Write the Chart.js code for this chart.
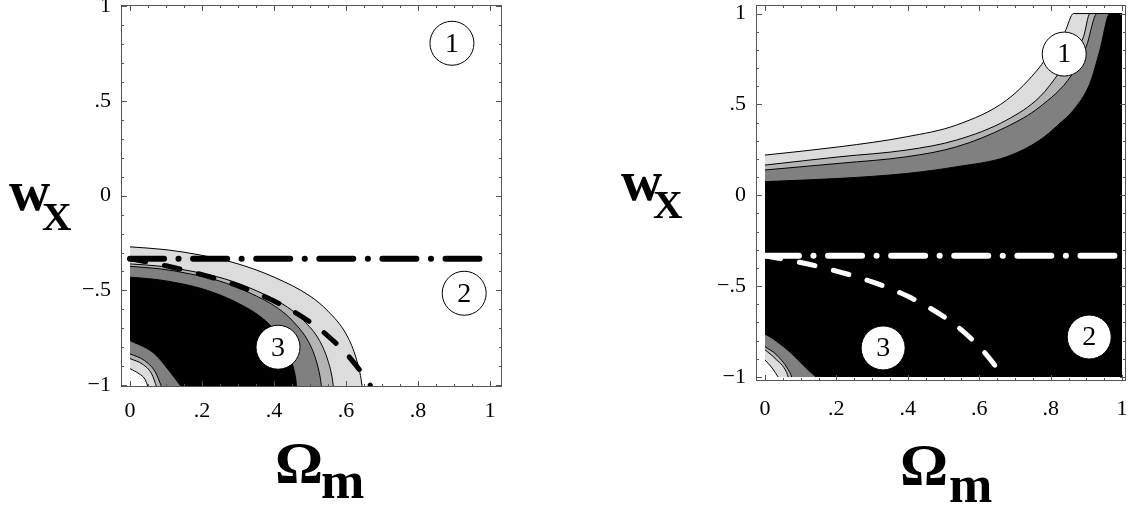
<!DOCTYPE html>
<html>
<head>
<meta charset="utf-8">
<script src="https://cdn.jsdelivr.net/npm/chart.js@4.4.1/dist/chart.umd.min.js"></script>
<style>
  body { margin: 0; width: 1128px; height: 508px; background: #fff; position: relative; overflow: hidden; font-family: 'Liberation Serif', serif; }
  .box { position: absolute; }
  .lbl { position: absolute; font-weight: bold; line-height: 1; white-space: nowrap; color: #000; }
</style>
</head>
<body>
<div class="box" style="left:0;top:-20px;width:540px;height:470px"><canvas id="leftChart"></canvas></div>
<div class="box" style="left:600px;top:-20px;width:550px;height:470px"><canvas id="rightChart"></canvas></div>

<span class="lbl" style="left:9px;top:162px;font-size:57px">w</span>
<span class="lbl" style="left:42px;top:196px;font-size:41px">X</span>
<span class="lbl" style="left:621px;top:152px;font-size:57px">w</span>
<span class="lbl" style="left:653px;top:184px;font-size:41px">X</span>
<span class="lbl" style="left:275px;top:433px;font-size:60px">Ω</span>
<span class="lbl" style="left:321px;top:455px;font-size:52px">m</span>
<span class="lbl" style="left:900px;top:435px;font-size:60px">Ω</span>
<span class="lbl" style="left:949px;top:459px;font-size:52px">m</span>

<script>
// axes: x = Omega_m, y = w_X
const omegaTicks = [0, 0.2, 0.4, 0.6, 0.8, 1];
const omegaTickLabels = ['0', '.2', '.4', '.6', '.8', '1'];
const wTicks = [-1, -0.5, 0, 0.5, 1];
const wTickLabels = ['−1', '−.5', '0', '.5', '1'];

// w = -1/3 (dash-dot) and the dashed boundary curve, same in both panels
const thirdX = [0, 1];
const thirdW = [-0.333, -0.333];
const dashedX = [0, 0.1, 0.2, 0.3, 0.4, 0.5, 0.55, 0.6, 0.64, 0.667];
const dashedW = [-0.333, -0.37, -0.417, -0.476, -0.556, -0.667, -0.741, -0.833, -0.926, -1.0];

// left panel contours (outer to inner)
const leftB1X = [0, 0.1, 0.2, 0.3, 0.4, 0.5, 0.55, 0.6, 0.625, 0.64, 0.645];
const leftB1W = [-0.27, -0.285, -0.315, -0.36, -0.43, -0.53, -0.61, -0.73, -0.84, -0.95, -1.01];
const leftB2X = [0, 0.088, 0.175, 0.263, 0.35, 0.438, 0.482, 0.526, 0.548, 0.561, 0.565];
const leftB2W = [-0.36, -0.373, -0.40, -0.439, -0.501, -0.589, -0.659, -0.764, -0.861, -0.957, -1.01];
const leftB3X = [0, 0.083, 0.165, 0.248, 0.33, 0.413, 0.454, 0.495, 0.516, 0.528, 0.532];
const leftB3W = [-0.373, -0.386, -0.412, -0.45, -0.511, -0.597, -0.666, -0.769, -0.864, -0.958, -1.01];
const leftB4X = [0, 0.072, 0.144, 0.215, 0.287, 0.359, 0.395, 0.431, 0.449, 0.46, 0.463];
const leftB4W = [-0.43, -0.442, -0.465, -0.50, -0.555, -0.634, -0.696, -0.79, -0.877, -0.963, -1.01];
const leftC1X = [0, 0.065, 0.1, 0.14];
const leftC1W = [-0.77, -0.835, -0.91, -1.01];
const leftC2X = [0, 0.04, 0.07, 0.088];
const leftC2W = [-0.835, -0.87, -0.93, -1.01];
const leftC3X = [0, 0.035, 0.06, 0.074];
const leftC3W = [-0.86, -0.89, -0.94, -1.01];
const leftC4X = [0, 0.025, 0.042, 0.05];
const leftC4W = [-0.913, -0.94, -0.97, -1.01];

// right panel contours
const rightD1X = [0, 0.21, 0.397, 0.537, 0.677, 0.77, 0.789, 0.84, 0.864, 1.0];
const rightD1W = [0.221, 0.267, 0.322, 0.387, 0.524, 0.707, 0.762, 0.90, 1.0, 1.0];
const rightD2X = [0, 0.21, 0.397, 0.537, 0.677, 0.77, 0.826, 0.892, 0.91, 1.0];
const rightD2W = [0.166, 0.212, 0.249, 0.304, 0.414, 0.542, 0.68, 0.872, 1.0, 1.0];
const rightD3X = [0, 0.21, 0.397, 0.537, 0.677, 0.77, 0.859, 0.9, 0.93, 1.0];
const rightD3W = [0.139, 0.176, 0.212, 0.267, 0.377, 0.487, 0.662, 0.82, 1.0, 1.0];
const rightD4X = [0, 0.21, 0.397, 0.537, 0.677, 0.77, 0.826, 0.864, 0.91, 0.938, 0.966, 1.0];
const rightD4W = [0.075, 0.093, 0.12, 0.157, 0.212, 0.304, 0.396, 0.469, 0.616, 0.80, 1.0, 1.0];
const rightE1X = [0, 0.023, 0.07, 0.126, 0.14];
const rightE1W = [-0.769, -0.796, -0.868, -0.976, -1.0];
const rightE2X = [0, 0.033, 0.07, 0.075];
const rightE2W = [-0.833, -0.879, -0.976, -1.0];
const rightE3X = [0, 0.028, 0.061, 0.065];
const rightE3W = [-0.85, -0.897, -0.976, -1.0];
const rightE4X = [0, 0.02, 0.037];
const rightE4W = [-0.906, -0.95, -1.0];

// numbered circles
const markerText = ['1', '2', '3'];
const leftMarkerX = [0.894, 0.928, 0.411];
const leftMarkerW = [0.805, -0.515, -0.80];
const rightMarkerX = [0.838, 0.908, 0.331];
const rightMarkerW = [0.777, -0.78, -0.84];

const LIGHT = '#dcdcdc', MID = '#b4b4b4', GRAY = '#808080';
const SERIF = "'Liberation Serif', 'DejaVu Serif', serif";

Chart.defaults.font.family = SERIF;
Chart.defaults.font.size = 22;
Chart.defaults.color = '#000';

function pts(xs, ys) {
  return xs.map((x, i) => ({ x: x, y: ys[i] }));
}

function band(xs, ys, color, withLine, floor) {
  return {
    data: pts(xs, ys),
    pointRadius: 0,
    borderColor: withLine ? '#000' : color,
    borderWidth: 1,
    backgroundColor: color,
    fill: { value: floor },
    cubicInterpolationMode: 'monotone'
  };
}

function markers(xs, ys) {
  return {
    data: pts(xs, ys),
    showLine: false,
    pointRadius: 22,
    pointHoverRadius: 22,
    pointBackgroundColor: '#fff',
    pointBorderColor: '#000',
    pointBorderWidth: 1
  };
}

function thirdLine(color) {
  return {
    data: pts(thirdX, thirdW),
    pointRadius: 0,
    borderColor: color,
    borderWidth: 6,
    borderDash: [34, 14.5, 0.1, 14.5],
    borderCapStyle: 'round',
    fill: false
  };
}

function dashedLine(color) {
  return {
    data: pts(dashedX, dashedW),
    pointRadius: 0,
    borderColor: color,
    borderWidth: 5,
    borderDash: [16, 19],
    borderCapStyle: 'round',
    fill: false,
    cubicInterpolationMode: 'monotone'
  };
}

// frame with inward ticks and the numbers inside the circles
const framePlugin = {
  id: 'frame',
  afterDatasetsDraw(chart) {
    const { ctx, chartArea: a, scales: { x, y } } = chart;
    ctx.save();
    const meta = chart.getDatasetMeta(0);
    ctx.fillStyle = '#000';
    ctx.font = '28px ' + SERIF;
    ctx.textAlign = 'center';
    ctx.textBaseline = 'middle';
    meta.data.forEach((p, i) => ctx.fillText(markerText[i], p.x, p.y + 1));

    ctx.strokeStyle = '#555';
    ctx.lineWidth = 1;
    ctx.strokeRect(a.left + 0.5, a.top + 0.5, a.width - 1, a.height - 1);
    ctx.beginPath();
    for (let i = 0; i <= 20; i++) {
      const v = i * 0.05;
      const len = i % 4 === 0 ? 6 : 3;
      const px = Math.round(x.getPixelForValue(v)) + 0.5;
      ctx.moveTo(px, a.top); ctx.lineTo(px, a.top + len);
      ctx.moveTo(px, a.bottom); ctx.lineTo(px, a.bottom - len);
    }
    for (let i = -10; i <= 10; i++) {
      const v = i * 0.1;
      const len = i % 5 === 0 ? 6 : 3;
      const py = Math.round(y.getPixelForValue(v)) + 0.5;
      ctx.moveTo(a.left, py); ctx.lineTo(a.left + len, py);
      ctx.moveTo(a.right, py); ctx.lineTo(a.right - len, py);
    }
    ctx.stroke();
    ctx.restore();
  }
};

function makeChart(id, datasets, xr, yr, yWidth, xHeight, pad, xPad) {
  new Chart(document.getElementById(id), {
    type: 'line',
    data: { datasets: datasets },
    options: {
      responsive: true,
      maintainAspectRatio: false,
      animation: false,
      events: [],
      layout: { padding: pad },
      plugins: { legend: { display: false }, tooltip: { enabled: false } },
      scales: {
        x: {
          type: 'linear', min: xr[0], max: xr[1],
          grid: { display: false, drawTicks: false },
          border: { display: false },
          afterBuildTicks: s => { s.ticks = omegaTicks.map(v => ({ value: v })); },
          afterFit: s => { s.height = xHeight; },
          ticks: {
            padding: xPad, color: '#000', maxRotation: 0, autoSkip: false,
            font: { family: SERIF, size: 22 },
            callback: v => omegaTickLabels[omegaTicks.indexOf(v)]
          }
        },
        y: {
          type: 'linear', min: yr[0], max: yr[1],
          grid: { display: false, drawTicks: false },
          border: { display: false },
          afterBuildTicks: s => { s.ticks = wTicks.map(v => ({ value: v })); },
          afterFit: s => { s.width = yWidth; },
          ticks: {
            padding: 10, color: '#000', autoSkip: false,
            font: { family: SERIF, size: 22 },
            callback: v => wTickLabels[wTicks.indexOf(v)]
          }
        }
      }
    },
    plugins: [framePlugin]
  });
}

// first dataset is drawn on top
const leftFloor = -1.01;
makeChart('leftChart', [
  markers(leftMarkerX, leftMarkerW),
  thirdLine('#000'),
  dashedLine('#000'),
  band(leftC4X, leftC4W, '#fff', true, leftFloor),
  band(leftC3X, leftC3W, LIGHT, true, leftFloor),
  band(leftC2X, leftC2W, MID, true, leftFloor),
  band(leftC1X, leftC1W, GRAY, false, leftFloor),
  band(leftB4X, leftB4W, '#000', false, leftFloor),
  band(leftB3X, leftB3W, GRAY, true, leftFloor),
  band(leftB2X, leftB2W, MID, true, leftFloor),
  band(leftB1X, leftB1W, LIGHT, true, leftFloor)
], [-0.025, 1.033], [-1.01, 1.007], 121, 63, { left: 0, top: 25, right: 38, bottom: 0 }, 11);

const rightFloor = -1.0;
makeChart('rightChart', [
  markers(rightMarkerX, rightMarkerW),
  thirdLine('#fff'),
  dashedLine('#fff'),
  band(rightE4X, rightE4W, '#fff', true, rightFloor),
  band(rightE3X, rightE3W, LIGHT, true, rightFloor),
  band(rightE2X, rightE2W, MID, true, rightFloor),
  band(rightE1X, rightE1W, GRAY, false, rightFloor),
  band(rightD4X, rightD4W, '#000', false, rightFloor),
  band(rightD3X, rightD3W, GRAY, true, rightFloor),
  band(rightD2X, rightD2W, MID, true, rightFloor),
  band(rightD1X, rightD1W, LIGHT, true, rightFloor)
], [-0.025, 1.011], [-1.022, 1.047], 156, 69, { left: 0, top: 25, right: 24, bottom: 0 }, 15);
</script>
</body>
</html>
